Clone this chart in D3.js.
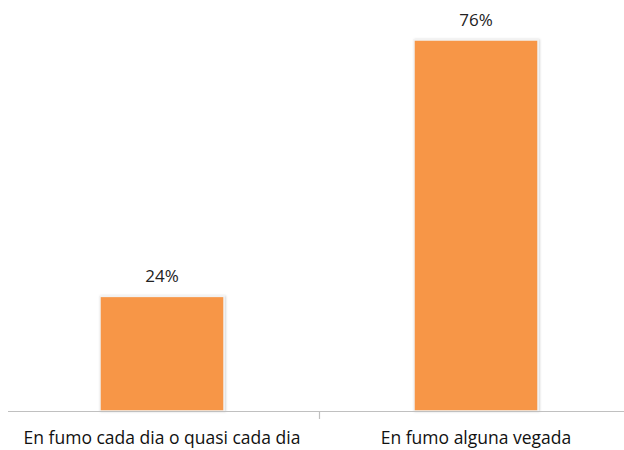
<!DOCTYPE html>
<html>
<head>
<meta charset="utf-8">
<script src="https://cdn.jsdelivr.net/npm/d3@7"></script>
<style>
  body { margin: 0; background: #fff; }
  svg { display: block; }
</style>
</head>
<body>
<script>
// Categories and values (labels are rounded).
const categories = ["En fumo cada dia o quasi cada dia", "En fumo alguna vegada"];
const values = [23.6, 76.4];
const valueLabels = ["24%", "76%"];

const width = 624, height = 450;
const baseY = 411;

const svg = d3.select("body").append("svg")
  .attr("width", width)
  .attr("height", height);

// Soft shadow round the bars.
const defs = svg.append("defs");
const f = defs.append("filter").attr("id", "shadow")
  .attr("x", "-10%").attr("y", "-10%").attr("width", "120%").attr("height", "120%");
f.append("feDropShadow")
  .attr("dx", 1).attr("dy", 0).attr("stdDeviation", 1)
  .attr("flood-color", "#000").attr("flood-opacity", 0.18);

// Scales.
const x = d3.scaleBand()
  .domain(categories)
  .range([5, 633])
  .paddingInner(0.605)
  .paddingOuter(0.3025);

const y = d3.scaleLinear()
  .domain([0, 80])
  .range([baseY, baseY - 80 * 4.856]);

// Bars.
svg.selectAll("rect.bar")
  .data(values)
  .enter().append("rect")
  .attr("class", "bar")
  .attr("x", (d, i) => x(categories[i]))
  .attr("y", d => y(d))
  .attr("width", x.bandwidth())
  .attr("height", d => y(0) - y(d))
  .attr("fill", "#f79646")
  .attr("stroke", "#f2f2f2")
  .attr("stroke-width", 1.5)
  .attr("filter", "url(#shadow)");

// Value labels above the bars.
svg.selectAll("text.val")
  .data(values)
  .enter().append("text")
  .attr("class", "val")
  .attr("x", (d, i) => x(categories[i]) + x.bandwidth() / 2)
  .attr("y", d => y(d) - 14)
  .attr("text-anchor", "middle")
  .attr("font-family", "'Open Sans', sans-serif")
  .attr("font-size", "17px")
  .attr("fill", "#222")
  .text((d, i) => valueLabels[i]);

// Axis line and the middle tick.
svg.append("line")
  .attr("x1", 8).attr("x2", width)
  .attr("y1", baseY + 0.5).attr("y2", baseY + 0.5)
  .attr("stroke", "#c0c0c0")
  .attr("stroke-width", 1.2);
svg.append("line")
  .attr("x1", 319.5).attr("x2", 319.5)
  .attr("y1", baseY).attr("y2", baseY + 8)
  .attr("stroke", "#c0c0c0")
  .attr("stroke-width", 1.2);

// Category labels.
svg.selectAll("text.cat")
  .data(categories)
  .enter().append("text")
  .attr("class", "cat")
  .attr("x", d => x(d) + x.bandwidth() / 2)
  .attr("y", 444)
  .attr("text-anchor", "middle")
  .attr("font-family", "'Open Sans', sans-serif")
  .attr("font-size", "17.5px")
  .attr("fill", "#111")
  .text(d => d);
</script>
</body>
</html>
